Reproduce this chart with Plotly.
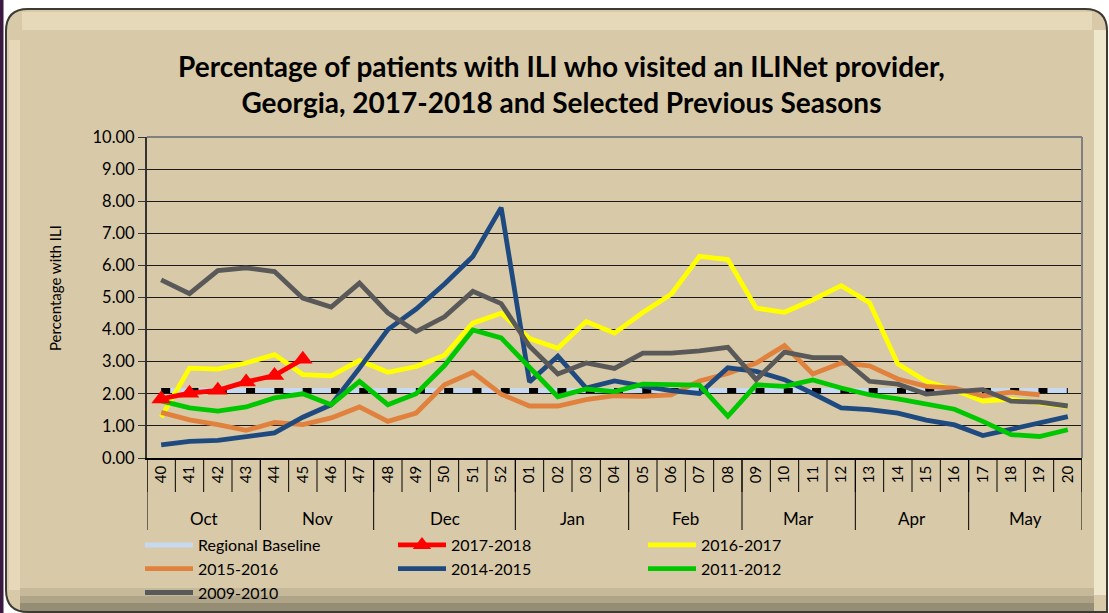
import plotly.graph_objects as go

# ---------------- data ----------------
weeks = ["40", "41", "42", "43", "44", "45", "46", "47", "48", "49", "50", "51", "52",
         "01", "02", "03", "04", "05", "06", "07", "08", "09", "10", "11", "12",
         "13", "14", "15", "16", "17", "18", "19", "20"]
months = ["Oct", "Nov", "Dec", "Jan", "Feb", "Mar", "Apr", "May"]
month_sizes = [4, 4, 5, 4, 4, 4, 4, 4]

baseline = [2.1] * 33

s2017_18 = [1.84, 2.02, 2.11, 2.37, 2.57, 3.08]

s2016_17 = [1.27, 2.80, 2.77, 2.96, 3.22, 2.60, 2.56, 3.04, 2.67, 2.85, 3.20, 4.20, 4.51,
            3.72, 3.42, 4.25, 3.89, 4.53, 5.10, 6.28, 6.18, 4.67, 4.54, 4.93, 5.37,
            4.84, 2.93, 2.39, 2.12, 1.77, 1.83, 1.72, 1.60]

s2015_16 = [1.42, 1.19, 1.04, 0.86, 1.11, 1.04, 1.25, 1.59, 1.14, 1.40, 2.28, 2.67, 1.99,
            1.62, 1.62, 1.82, 1.94, 1.92, 1.97, 2.40, 2.63, 2.96, 3.50, 2.62, 2.96,
            2.87, 2.46, 2.23, 2.18, 1.94, 2.05, 1.97, None]

s2014_15 = [0.41, 0.52, 0.55, 0.67, 0.78, 1.27, 1.66, 2.80, 4.00, 4.64, 5.42, 6.28, 7.80,
            2.37, 3.17, 2.18, 2.40, 2.24, 2.10, 2.01, 2.81, 2.70, 2.44, 2.01, 1.56,
            1.51, 1.40, 1.18, 1.03, 0.70, 0.90, 1.10, 1.29]

s2011_12 = [1.78, 1.56, 1.46, 1.59, 1.87, 2.00, 1.66, 2.39, 1.66, 2.00, 2.88, 3.99, 3.74,
            2.80, 1.91, 2.15, 2.07, 2.30, 2.27, 2.27, 1.30, 2.28, 2.23, 2.43, 2.18,
            1.97, 1.84, 1.68, 1.52, 1.14, 0.73, 0.67, 0.88]

s2009_10 = [5.55, 5.12, 5.84, 5.92, 5.81, 4.98, 4.70, 5.45, 4.52, 3.94, 4.40, 5.19, 4.81,
            3.48, 2.62, 2.96, 2.79, 3.27, 3.27, 3.34, 3.45, 2.44, 3.30, 3.13, 3.13,
            2.39, 2.30, 1.99, 2.07, 2.13, 1.77, 1.74, 1.62]

# ---------------- layout geometry ----------------
W, H = 1109, 613
L, R, T, B = 147, 27, 137, 155
PW, PH = W - L - R, H - T - B
FONT = "Lato, Open Sans, Liberation Sans, sans-serif"


def px(x):
    return (x - L) / PW


def py(y):
    return (H - B - y) / PH


fig = go.Figure()

# baseline (light blue with black dashes)
fig.add_trace(go.Scatter(x=weeks, y=baseline, mode="lines", name="Regional Baseline",
                         line=dict(color="#c6d9f1", width=5), legend="legend"))
fig.add_trace(go.Scatter(x=weeks, y=baseline, mode="lines", name="Regional Baseline",
                         line=dict(color="#000000", width=5, dash="9px,19.3px"),
                         showlegend=False, hoverinfo="skip"))

series = [
    ("2016-2017", s2016_17, "#ffff00", "legend3"),
    ("2015-2016", s2015_16, "#e0823d", "legend"),
    ("2014-2015", s2014_15, "#1f4a80", "legend2"),
    ("2011-2012", s2011_12, "#00c800", "legend3"),
    ("2009-2010", s2009_10, "#595959", "legend"),
]
for name, vals, col, lg in series:
    fig.add_trace(go.Scatter(x=weeks, y=vals, mode="lines", name=name,
                             line=dict(color=col, width=4.8), legend=lg))

fig.add_trace(go.Scatter(x=weeks[:len(s2017_18)], y=s2017_18, mode="lines+markers",
                         name="2017-2018", line=dict(color="#ff0000", width=4.8),
                         marker=dict(symbol="triangle-up", size=17, color="#ff0000"),
                         legend="legend2", legendrank=1))

shapes = []
# outer frame
shapes.append(dict(type="rect", xref="paper", yref="paper", x0=px(0), x1=px(3.5), y0=py(0), y1=py(H),
                   fillcolor="#3a1840", line=dict(width=0), layer="below"))
r = 22
x0, x1, y0, y1 = 6, 1107, 9, 612
path = (f"M {px(x0 + r)},{py(y0)} L {px(x1 - r)},{py(y0)} "
        f"Q {px(x1)},{py(y0)} {px(x1)},{py(y0 + r)} L {px(x1)},{py(y1)} "
        f"L {px(x0 + r)},{py(y1)} Q {px(x0)},{py(y1)} {px(x0)},{py(y1 - r)} "
        f"L {px(x0)},{py(y0 + r)} Q {px(x0)},{py(y0)} {px(x0 + r)},{py(y0)} Z")
shapes.append(dict(type="path", xref="paper", yref="paper", path=path,
                   fillcolor="#d8c9a8", line=dict(color="#3c3a32", width=2), layer="below"))
# bevel highlights / shadows
shapes.append(dict(type="rect", xref="paper", yref="paper", x0=px(22), x1=px(1092), y0=py(12), y1=py(30),
                   fillcolor="#fff6dc", opacity=0.35, line=dict(width=0), layer="below"))
shapes.append(dict(type="rect", xref="paper", yref="paper", x0=px(1094), x1=px(1106), y0=py(30), y1=py(595),
                   fillcolor="#fffbe6", opacity=0.6, line=dict(width=0), layer="below"))
shapes.append(dict(type="rect", xref="paper", yref="paper", x0=px(9), x1=px(20), y0=py(40), y1=py(590),
                   fillcolor="#f3e7c8", opacity=0.5, line=dict(width=0), layer="below"))
for yy, op in [(588, 0.12), (596, 0.18), (603, 0.25)]:
    shapes.append(dict(type="rect", xref="paper", yref="paper", x0=px(20), x1=px(1094), y0=py(yy), y1=py(611),
                       fillcolor="#4a4a38", opacity=op, line=dict(width=0), layer="below"))

# plot-area top & right border
shapes.append(dict(type="line", xref="paper", yref="paper", x0=0, x1=1, y0=1, y1=1,
                   line=dict(color="#808080", width=2)))
shapes.append(dict(type="line", xref="paper", yref="paper", x0=1, x1=1, y0=0, y1=1,
                   line=dict(color="#808080", width=2)))

# week separators and month dividers
n = len(weeks)
for i in range(n + 1):
    shapes.append(dict(type="line", xref="x", yref="paper", x0=i - 0.5, x1=i - 0.5,
                       y0=0, y1=-34 / PH, line=dict(color="#000000", width=1)))
annotations = []
pos = -0.5
shapes.append(dict(type="line", xref="x", yref="paper", x0=pos, x1=pos,
                   y0=0, y1=-72 / PH, line=dict(color="#000000", width=1)))
for m, sz in zip(months, month_sizes):
    annotations.append(dict(x=pos + sz / 2, y=-60 / PH, xref="x", yref="paper", text=m,
                            showarrow=False, font=dict(size=17, color="#000000", family=FONT),
                            xanchor="center", yanchor="middle"))
    pos += sz
    shapes.append(dict(type="line", xref="x", yref="paper", x0=pos, x1=pos,
                       y0=0, y1=-72 / PH, line=dict(color="#000000", width=1)))

# title
annotations.append(dict(x=px(561), y=py(84), xref="paper", yref="paper",
                        text="<b>Percentage of patients with ILI who visited an ILINet provider,<br>"
                             "Georgia, 2017-2018 and Selected Previous Seasons</b>",
                        showarrow=False, font=dict(size=28, color="#000000", family=FONT),
                        xanchor="center", yanchor="middle", align="center"))
# y-axis title
annotations.append(dict(x=px(55), y=py(288), xref="paper", yref="paper", text="Percentage with ILI",
                        textangle=-90, showarrow=False, font=dict(size=15, color="#000000", family=FONT),
                        xanchor="center", yanchor="middle"))

leg_common = dict(orientation="v", yanchor="top", xanchor="left", bgcolor="rgba(0,0,0,0)",
                  font=dict(size=16, family=FONT, color="#000000"), itemwidth=48,
                  traceorder="normal", tracegroupgap=0)

fig.update_layout(
    width=W, height=H,
    margin=dict(l=L, r=R, t=T, b=B, autoexpand=False),
    paper_bgcolor="#ffffff",
    plot_bgcolor="rgba(0,0,0,0)",
    font=dict(family=FONT, color="#000000"),
    shapes=shapes,
    annotations=annotations,
    showlegend=True,
    legend=dict(x=px(140), y=py(528), **leg_common),
    legend2=dict(x=px(393), y=py(528), **leg_common),
    legend3=dict(x=px(643), y=py(528), **leg_common),
    xaxis=dict(type="category", categoryorder="array", categoryarray=weeks,
               range=[-0.5, n - 0.5], showgrid=False, ticks="", tickangle=-90,
               tickfont=dict(size=15, family=FONT, color="#000000"),
               showline=True, linecolor="#000000", linewidth=1.5, zeroline=False,
               fixedrange=True),
    yaxis=dict(range=[0, 10], dtick=1, tickformat=".2f", showgrid=True,
               gridcolor="#1a1a1a", gridwidth=1.3, zeroline=False,
               showline=True, linecolor="#333333", linewidth=2,
               ticks="outside", ticklen=7, tickcolor="#333333",
               tickfont=dict(size=16.5, family=FONT, color="#000000"),
               fixedrange=True),
)

fig.write_html("out.html", config={"displayModeBar": False},
               post_script="document.body.style.margin='0';document.body.style.overflow='hidden';")
